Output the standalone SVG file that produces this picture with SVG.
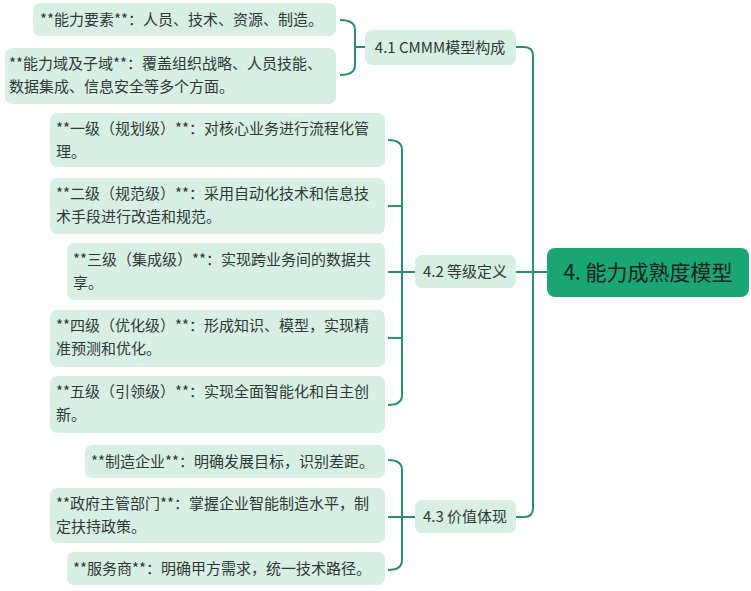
<svg xmlns="http://www.w3.org/2000/svg" width="751" height="591" viewBox="0 0 751 591">
<style>
.leaf{fill:#d8efe4}
.t{font-family:"Noto Sans CJK SC","Noto Sans",sans-serif;font-size:15px;fill:#2d3a36}
.sub{fill:#d8efe4}
.c{fill:none;stroke:#2a8c78;stroke-width:2}
</style>
<rect width="751" height="591" fill="#fff"/>
<g id="connectors">
<path class="c" d="M516 47 H524 Q533 47 533 56 V508 Q533 517 524 517 H516"/>
<path class="c" d="M516 272 H547"/>
<path class="c" d="M340 20 Q355 20 355 30 V65 Q355 75 340 75 M355 47 H365"/>
<path class="c" d="M388 140 Q402 140 402 150 V395 Q402 405 388 405 M388 206 H402 M388 272 H415 M388 338 H402"/>
<path class="c" d="M388 460 Q402 460 402 470 V560 Q402 570 388 570 M388 517 H415"/>
</g>
<g id="root"><rect x="547" y="248" width="202" height="49" rx="8" fill="#1aa574"/><text x="648" y="280" text-anchor="middle" font-family="Noto Sans CJK SC,sans-serif" font-size="21" fill="#1b2420">4. 能力成熟度模型</text></g>
<g id="n41"><rect class="sub" x="365" y="30" width="151" height="35" rx="7"/><text class="t" x="440" y="53" text-anchor="middle">4.1 CMMM模型构成</text></g>
<g id="n42"><rect class="sub" x="415" y="255" width="101" height="33" rx="7"/><text class="t" x="465" y="277" text-anchor="middle">4.2 等级定义</text></g>
<g id="n43"><rect class="sub" x="415" y="500" width="101" height="33" rx="7"/><text class="t" x="465" y="522" text-anchor="middle">4.3 价值体现</text></g>
<g id="a1"><rect class="leaf" x="33" y="3" width="303" height="33" rx="7"/><text class="t" x="40" y="25">**能力要素**：人员、技术、资源、制造。</text></g>
<g id="a2"><rect class="leaf" x="5" y="48" width="331" height="56" rx="7"/><text class="t" x="9" y="69">**能力域及子域**：覆盖组织战略、人员技能、</text><text class="t" x="9" y="92">数据集成、信息安全等多个方面。</text></g>
<g id="b1"><rect class="leaf" x="50" y="113" width="335" height="54" rx="7"/><text class="t" x="56" y="134">**一级（规划级）**：对核心业务进行流程化管</text><text class="t" x="56" y="157">理。</text></g>
<g id="b2"><rect class="leaf" x="50" y="178" width="335" height="56" rx="7"/><text class="t" x="56" y="199">**二级（规范级）**：采用自动化技术和信息技</text><text class="t" x="56" y="222">术手段进行改造和规范。</text></g>
<g id="b3"><rect class="leaf" x="67" y="243" width="318" height="57" rx="7"/><text class="t" x="73" y="265">**三级（集成级）**：实现跨业务间的数据共</text><text class="t" x="73" y="288">享。</text></g>
<g id="b4"><rect class="leaf" x="50" y="310" width="335" height="57" rx="7"/><text class="t" x="56" y="331">**四级（优化级）**：形成知识、模型，实现精</text><text class="t" x="56" y="354">准预测和优化。</text></g>
<g id="b5"><rect class="leaf" x="50" y="376" width="335" height="57" rx="7"/><text class="t" x="56" y="397">**五级（引领级）**：实现全面智能化和自主创</text><text class="t" x="56" y="420">新。</text></g>
<g id="c1"><rect class="leaf" x="85" y="445" width="300" height="33" rx="7"/><text class="t" x="91" y="467">**制造企业**：明确发展目标，识别差距。</text></g>
<g id="c2"><rect class="leaf" x="50" y="488" width="335" height="55" rx="7"/><text class="t" x="56" y="509">**政府主管部门**：掌握企业智能制造水平，制</text><text class="t" x="56" y="532">定扶持政策。</text></g>
<g id="c3"><rect class="leaf" x="67" y="552" width="318" height="33" rx="7"/><text class="t" x="73" y="574">**服务商**：明确甲方需求，统一技术路径。</text></g>
</svg>
